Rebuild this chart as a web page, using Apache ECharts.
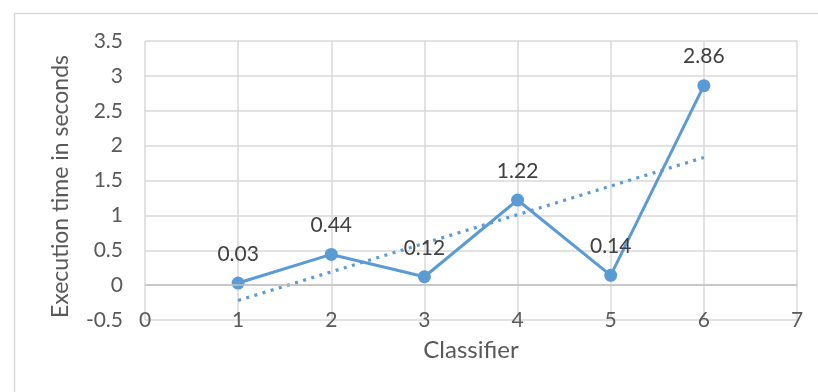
<!DOCTYPE html>
<html>
<head>
<meta charset="utf-8">
<script src="https://cdn.jsdelivr.net/npm/echarts@6/dist/echarts.min.js"></script>
<style>
html,body{margin:0;padding:0;background:#fff;}
#chart{width:818px;height:392px;}
</style>
</head>
<body>
<div id="chart"></div>
<script>
var classifiers = [1, 2, 3, 4, 5, 6];
var execTimes = [0.03, 0.44, 0.12, 1.22, 0.14, 2.86];
var trendX = [1, 6];
var trendY = [-0.22, 1.83];
var xTitle = 'Classifier';
var yTitle = 'Execution time in seconds';

var FONT = 'Lato';
var BLUE = '#5b9bd5';

var chart = echarts.init(document.getElementById('chart'), null, {renderer: 'canvas'});
var mainData = classifiers.map(function (c, i) { return [c, execTimes[i]]; });
var trendData = trendX.map(function (x, i) { return [x, trendY[i]]; });

chart.setOption({
  animation: false,
  backgroundColor: '#ffffff',
  textStyle: {fontFamily: FONT},
  graphic: [{
    type: 'rect',
    left: 12, top: 11,
    shape: {width: 900, height: 500},
    style: {fill: 'none', stroke: '#d9d9d9', lineWidth: 1.5},
    silent: true
  }],
  grid: {left: 145, right: 21, top: 41, bottom: 72},
  xAxis: {
    type: 'value',
    min: 0, max: 7, interval: 1,
    name: xTitle,
    nameLocation: 'middle',
    nameGap: 18,
    nameTextStyle: {fontSize: 24, color: '#595959', fontFamily: FONT, verticalAlign: 'top'},
    axisLine: {show: false},
    axisTick: {show: false},
    axisLabel: {fontSize: 21, color: '#595959', fontFamily: FONT, margin: 0, verticalAlign: 'middle'},
    splitLine: {show: true, lineStyle: {color: '#d9d9d9', width: 1.5}}
  },
  yAxis: {
    type: 'value',
    min: -0.5, max: 3.5, interval: 0.5,
    name: yTitle,
    nameLocation: 'middle',
    nameGap: 73,
    nameRotate: 90,
    nameTextStyle: {fontSize: 23, color: '#595959', fontFamily: FONT, padding: [0, 12, 0, 0]},
    axisLine: {show: false},
    axisTick: {show: false},
    axisLabel: {fontSize: 21, color: '#595959', fontFamily: FONT, margin: 22},
    splitLine: {show: true, lineStyle: {color: '#d9d9d9', width: 1.5}}
  },
  series: [
    {
      type: 'line',
      data: trendData,
      symbol: 'none',
      silent: true,
      z: 2,
      lineStyle: {color: BLUE, width: 3.2, type: [3, 5.5]},
      markLine: {
        silent: true,
        symbol: 'none',
        label: {show: false},
        lineStyle: {color: '#bfbfbf', width: 1.5, type: 'solid'},
        data: [{yAxis: 0}]
      }
    },
    {
      type: 'line',
      data: mainData,
      symbol: 'circle',
      symbolSize: 13,
      z: 3,
      itemStyle: {color: BLUE},
      lineStyle: {color: BLUE, width: 3},
      label: {
        show: true,
        position: 'top',
        distance: 12,
        fontSize: 21,
        color: '#404040',
        fontFamily: FONT
      }
    }
  ]
});
</script>
</body>
</html>
